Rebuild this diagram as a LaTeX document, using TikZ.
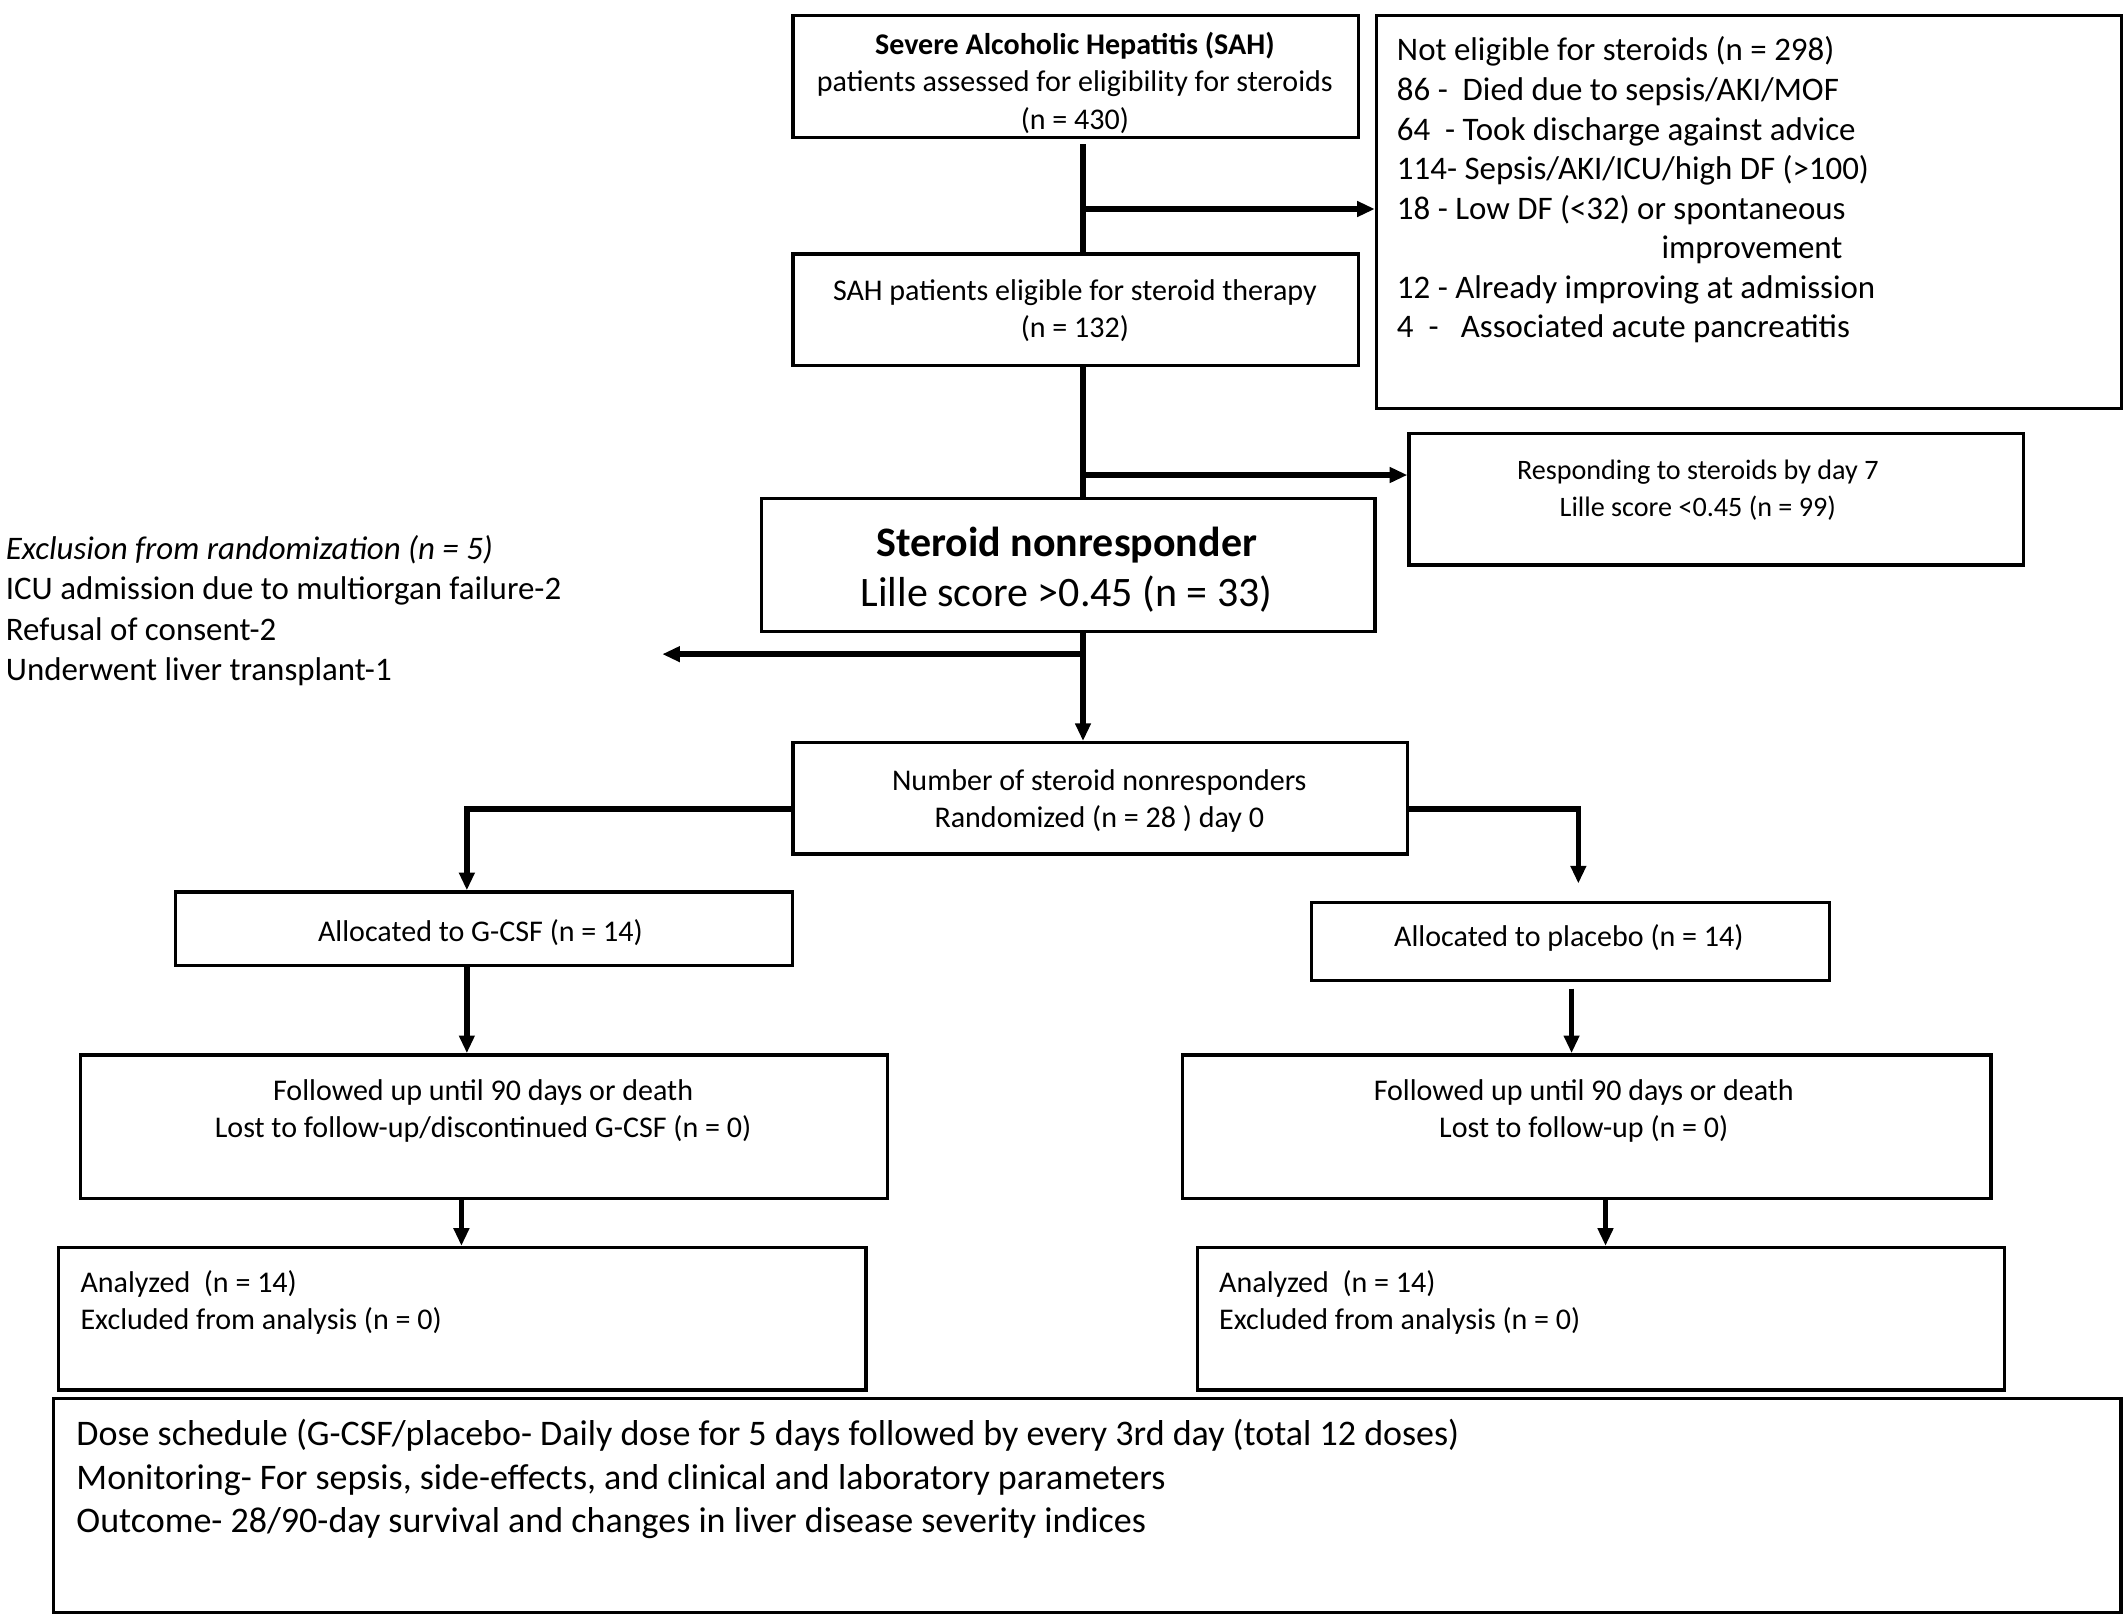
\documentclass[tikz,border=0pt]{standalone}
\usepackage{fontspec}
\setmainfont{Carlito}
\usetikzlibrary{arrows.meta}
\begin{document}
\begin{tikzpicture}[x=0.02cm,y=-0.02cm,
  box/.style={draw, line width=1.4pt, inner sep=0pt, anchor=north west},
  conn/.style={line width=2.3pt},
  arr/.style={line width=2.3pt, -{Triangle[length=0.26cm,width=0.22cm]}},
  txt/.style={inner sep=0pt, align=center, font=\fontsize{12.6}{15.4}\selectfont},
  ltxt/.style={inner sep=0pt, align=left, anchor=west}]
\useasboundingbox (0,0) rectangle (1568,1194);
% boxes
\node[box, minimum width=8.34cm, minimum height=1.80cm] (b1) at (583,10) {};
\node[box, minimum width=10.98cm, minimum height=5.80cm] (ne) at (1013,10) {};
\node[box, minimum width=8.34cm, minimum height=1.64cm] (b2) at (583,186) {};
\node[box, minimum width=9.06cm, minimum height=1.94cm] (resp) at (1037,318) {};
\node[box, minimum width=9.04cm, minimum height=1.96cm] (nr) at (560,366) {};
\node[box, minimum width=9.06cm, minimum height=1.64cm] (rand) at (583,546) {};
\node[box, minimum width=9.10cm, minimum height=1.08cm] (gal) at (128,656) {};
\node[box, minimum width=7.64cm, minimum height=1.14cm] (pal) at (965,664) {};
\node[box, minimum width=11.90cm, minimum height=2.12cm] (fl) at (58,776) {};
\node[box, minimum width=11.92cm, minimum height=2.12cm] (fr) at (870,776) {};
\node[box, minimum width=11.90cm, minimum height=2.10cm] (al) at (42,918) {};
\node[box, minimum width=11.90cm, minimum height=2.10cm] (ar) at (881,918) {};
\node[box, minimum width=30.48cm, minimum height=3.16cm] (bot) at (38,1029) {};
% texts
\node[txt, font=\fontsize{12.6}{15.6}\selectfont] (t1) at (792,61) {\textbf{Severe Alcoholic Hepatitis (SAH)}\\patients assessed for eligibility for steroids\\(n = 430)};
\node[ltxt, font=\fontsize{13.8}{16.6}\selectfont] (tne) at (1029,140) {Not eligible for steroids (n = 298)\\86 -\ \ Died due to sepsis/AKI/MOF\\64\ \ - Took discharge against advice\\114- Sepsis/AKI/ICU/high DF (>100)\\18 - Low DF (<32) or spontaneous\\\hspace*{3.9cm}improvement\\12 - Already improving at admission\\4\ \ -\ \ \ Associated acute pancreatitis};
\node[txt] (t2) at (792,229) {SAH patients eligible for steroid therapy\\(n = 132)};
\node[txt, font=\fontsize{11.8}{15.4}\selectfont] (tresp) at (1251,361) {Responding to steroids by day 7\\Lille score <0.45 (n = 99)};
\node[txt, font=\fontsize{17.6}{21}\selectfont] (tnr) at (786,420) {\textbf{Steroid nonresponder}\\Lille score >0.45 (n = 33)};
\node[ltxt, font=\fontsize{13.8}{17}\selectfont] (tex) at (4,450) {\textit{Exclusion from randomization (n = 5)}\\ICU admission due to multiorgan failure-2\\Refusal of consent-2\\Underwent liver transplant-1};
\node[txt] (trand) at (810,590) {Number of steroid nonresponders\\Randomized (n = 28 ) day 0};
\node[txt] (tgal) at (354,687) {Allocated to G-CSF (n = 14)};
\node[txt] (tpal) at (1156,691) {Allocated to placebo (n = 14)};
\node[txt] (tfl) at (356,818.5) {Followed up until 90 days or death\\Lost to follow-up/discontinued G-CSF (n = 0)};
\node[txt] (tfr) at (1167,818.5) {Followed up until 90 days or death\\Lost to follow-up (n = 0)};
\node[ltxt, font=\fontsize{12.6}{15.4}\selectfont] (tal) at (59,959.5) {Analyzed\ \ (n = 14)\\Excluded from analysis (n = 0)};
\node[ltxt, font=\fontsize{12.6}{15.4}\selectfont] (tar) at (898,959.5) {Analyzed\ \ (n = 14)\\Excluded from analysis (n = 0)};
\node[ltxt, font=\fontsize{15.1}{18.2}\selectfont] (tbot) at (56,1090) {Dose schedule (G-CSF/placebo- Daily dose for 5 days followed by every 3rd day (total 12 doses)\\Monitoring- For sepsis, side-effects, and clinical and laboratory parameters\\Outcome- 28/90-day survival and changes in liver disease severity indices};
% connectors
\coordinate (mx) at (798,0);
\coordinate (j1) at (798,154);
\coordinate (j2) at (798,350);
\coordinate (j3) at (798,482);
\coordinate (exend) at (488,482);
\coordinate (ry) at (0,596);
\coordinate (lx) at (344,0);
\coordinate (rx) at (1163,0);
\coordinate (px) at (1158,0);
\coordinate (flx) at (340,0);
\coordinate (frx) at (1183,0);
\draw[conn] ([yshift=-0.08cm]b1.south -| mx) -- (b2.north -| mx);
\draw[arr] (j1) -- (j1 -| ne.west);
\draw[conn] (b2.south -| mx) -- (nr.north -| mx);
\draw[arr] (j2) -- (j2 -| resp.west);
\draw[arr] (nr.south -| mx) -- (rand.north -| mx);
\draw[arr] (j3) -- (exend);
\draw[arr] (rand.west |- ry) -| (gal.north -| lx);
\draw[arr, shorten >=0.26cm] (rand.east |- ry) -| (pal.north -| rx);
\draw[arr] (gal.south -| lx) -- (fl.north -| lx);
\draw[arr] ([yshift=-0.1cm]pal.south -| px) -- (fr.north -| px);
\draw[arr] (fl.south -| flx) -- (al.north -| flx);
\draw[arr] (fr.south -| frx) -- (ar.north -| frx);
\end{tikzpicture}
\end{document}
